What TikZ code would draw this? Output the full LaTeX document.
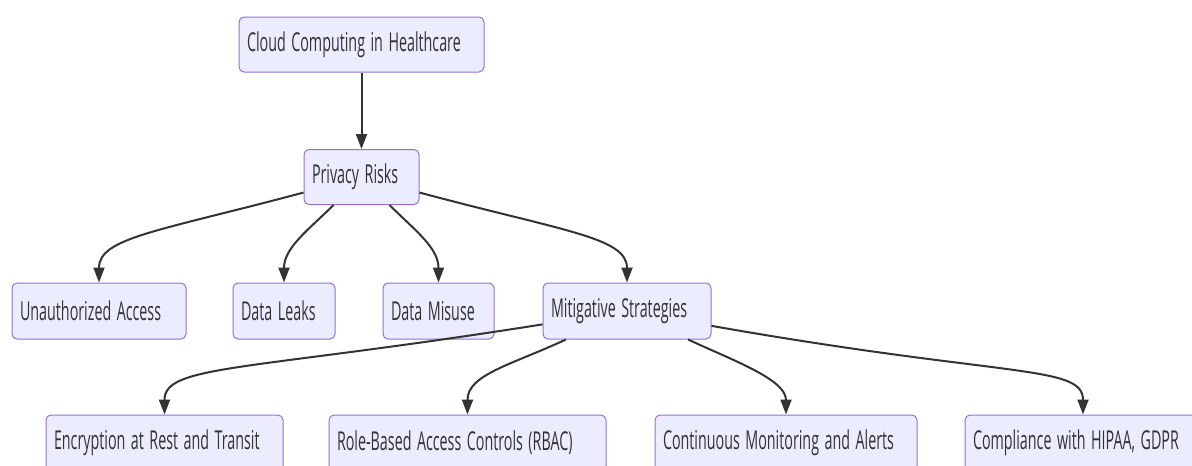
\documentclass[tikz,border=0pt]{standalone}
\usepackage{fontspec}
\setmainfont[FakeStretch=0.55]{Open Sans}
\usepackage{tikz}
\usetikzlibrary{arrows.meta}
\definecolor{nodefill}{RGB}{236, 236, 255}
\definecolor{nodeline}{RGB}{147, 112, 219}
\definecolor{edgegray}{RGB}{51, 51, 51}
\definecolor{textgray}{RGB}{51, 51, 51}
\newcommand{\boxfont}{\fontsize{26}{28}\selectfont\spaceskip=5.5pt\relax}
\tikzset{
    topicbox/.style={draw=nodeline, fill=nodefill, line width=1pt, rounded corners=5pt, inner xsep=8pt, inner ysep=2pt,
        minimum height=55pt, text width=#1, align=flush left, text=textgray, font=\boxfont},
    flowarrow/.style={-{Triangle[length=15pt, width=11pt]}, line width=2pt, draw=edgegray},
}
\begin{document}
\begin{tikzpicture}[x=1pt, y=-1pt]
    \useasboundingbox (0,0) rectangle (1192,466);
    \clip (0,0) rectangle (1192,466);

    % Root topic
    \node[topicbox=229pt] (cloud) at (361.5, 44.5) {Cloud Computing in Healthcare};

    % Risks
    \node[topicbox=99pt] (privacy) at (361.5, 177) {Privacy Risks};

    % Risk kinds
    \node[topicbox=158pt, minimum height=56pt] (unauth) at (99, 311) {Unauthorized Access};
    \node[topicbox=86pt, minimum height=56pt] (leaks) at (284, 311) {Data Leaks};
    \node[topicbox=95pt, minimum height=56pt] (misuse) at (438.5, 311) {Data Misuse};
    \node[topicbox=152pt, minimum height=56pt] (mitig) at (627, 311) {Mitigative Strategies};

    % Strategies
    \node[topicbox=221pt, minimum height=56pt] (encrypt) at (164.5, 443) {Encryption at Rest and Transit};
    \node[topicbox=261pt, minimum height=56pt] (rbac) at (467.5, 443) {Role-Based Access Controls (RBAC)};
    \node[topicbox=246pt, minimum height=56pt] (monitor) at (786, 443) {Continuous Monitoring and Alerts};
    \node[topicbox=220pt, minimum height=56pt] (comply) at (1083, 443) {Compliance with HIPAA, GDPR};

    % Arrows
    \draw[flowarrow] (cloud) -- (privacy);
    \draw[flowarrow] (privacy) to[out=195, in=90, out distance=150pt, in distance=45pt] (unauth);
    \draw[flowarrow] (privacy) to[out=225, in=90, out distance=35pt, in distance=35pt] (leaks);
    \draw[flowarrow] (privacy) to[out=315, in=90, out distance=35pt, in distance=35pt] (misuse);
    \draw[flowarrow] (privacy) to[out=345, in=90, out distance=150pt, in distance=45pt] (mitig);
    \draw[flowarrow] (mitig) to[out=189, in=90, out distance=300pt, in distance=50pt] (encrypt);
    \draw[flowarrow] (mitig) to[out=205, in=90, out distance=60pt, in distance=40pt] (rbac);
    \draw[flowarrow] (mitig) to[out=335, in=90, out distance=50pt, in distance=35pt] (monitor);
    \draw[flowarrow] (mitig) to[out=350, in=90, out distance=300pt, in distance=50pt] (comply);
\end{tikzpicture}
\end{document}
